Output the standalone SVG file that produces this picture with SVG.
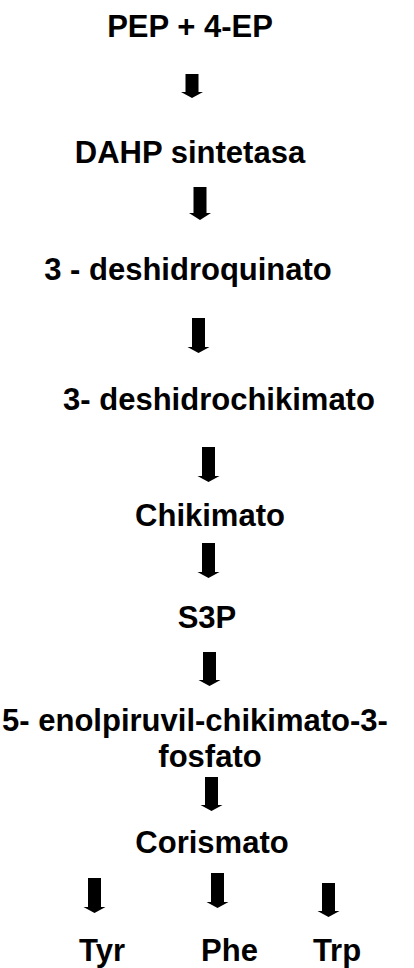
<svg xmlns="http://www.w3.org/2000/svg" width="414" height="968" viewBox="0 0 414 968">
  <style>
    .lbl { font-family: "Liberation Sans", Arial, sans-serif; font-weight: bold; font-size: 31px; fill: #000; text-anchor: middle; }
    .arr { fill: #000; stroke: none; }
  </style>
  <rect width="414" height="968" fill="#fff"/>

  <!-- block arrows pointing down: shaft 13 wide, head 22 wide and 6-7 tall -->
  <g id="connectors" class="arr">
    <path d="M185.5 74 H198.5 V92 H203 L192 98 L181 92 H185.5 Z"/>
    <path d="M193.5 187 H206.5 V213 H211 L200 220 L189 213 H193.5 Z"/>
    <path d="M192 318 H205 V347 H209.5 L198.5 353 L187.5 347 H192 Z"/>
    <path d="M202 447 H215 V476 H219.5 L208.5 482 L197.5 476 H202 Z"/>
    <path d="M202 543 H215 V572 H219.5 L208.5 578 L197.5 572 H202 Z"/>
    <path d="M203 652 H216 V680 H220.5 L209.5 686 L198.5 680 H203 Z"/>
    <path d="M205 777 H218 V805 H222.5 L211.5 811 L200.5 805 H205 Z"/>
    <path d="M88 878 H101 V907 H105.5 L94.5 913 L83.5 907 H88 Z"/>
    <path d="M211 873 H224 V902 H228.5 L217.5 908 L206.5 902 H211 Z"/>
    <path d="M322 883 H335 V911 H339.5 L328.5 917 L317.5 911 H322 Z"/>
  </g>

  <g id="pep"><text class="lbl" x="190" y="37">PEP + 4-EP</text></g>
  <g id="dahp"><text class="lbl" x="190" y="163">DAHP sintetasa</text></g>
  <g id="dhq"><text class="lbl" x="188" y="280">3 - deshidroquinato</text></g>
  <g id="dhs"><text class="lbl" x="219" y="410">3- deshidrochikimato</text></g>
  <g id="chikimato"><text class="lbl" x="210" y="526">Chikimato</text></g>
  <g id="s3p"><text class="lbl" x="207" y="628">S3P</text></g>
  <g id="epsp">
    <text class="lbl" x="195" y="731">5- enolpiruvil-chikimato-3-</text>
    <text class="lbl" x="210" y="767">fosfato</text>
  </g>
  <g id="corismato"><text class="lbl" x="212" y="853">Corismato</text></g>
  <g id="tyr"><text class="lbl" x="102" y="961">Tyr</text></g>
  <g id="phe"><text class="lbl" x="229.5" y="961">Phe</text></g>
  <g id="trp"><text class="lbl" x="337" y="961">Trp</text></g>
</svg>
